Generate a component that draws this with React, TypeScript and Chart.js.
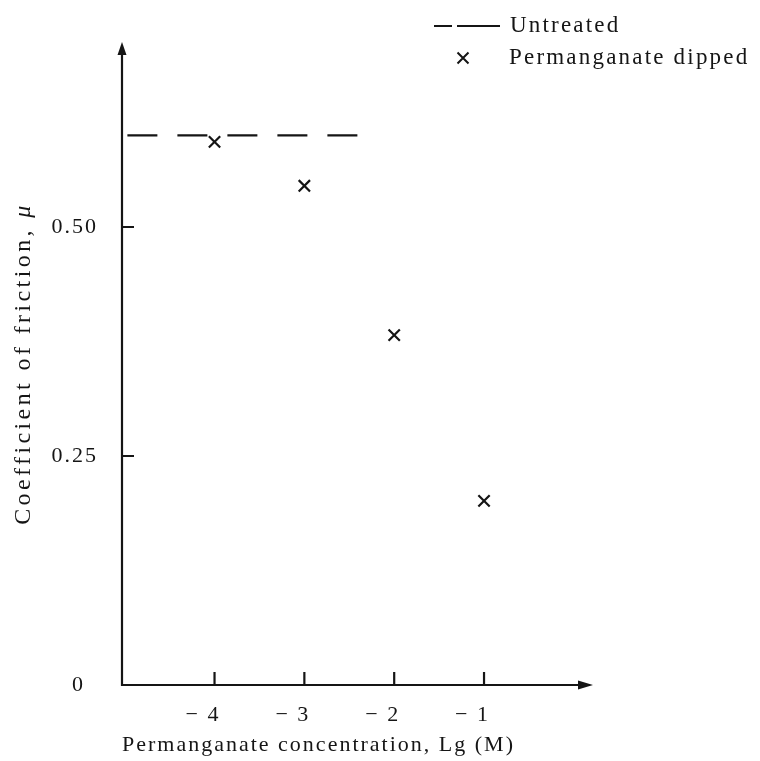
import { useEffect, useRef } from 'react';
import { Chart, registerables } from 'chart.js';

Chart.register(...registerables);

// ---- data ----
const concentrations = [-4, -3, -2, -1];
const frictionDipped = [0.593, 0.545, 0.382, 0.201];
const untreatedX = [-4.97, -2.39];
const untreatedValue = 0.6;
const xTickValues = [-4, -3, -2, -1];
const yTickValues = [0, 0.25, 0.5];
const yTickLabels = ['0\u2007', '0.25', '0.50'];
const legendLabels = ['Untreated', 'Permanganate dipped'];
const xTitle = 'Permanganate concentration, Lg (M)';
const yTitleText = 'Coefficient of friction, ';
const yTitleSymbol = 'μ';
const xRange = [-5.03, 0.213];
const yRange = [0, 0.702];

const FAMILY = '"Liberation Serif", "Times New Roman", serif';
const INK = '#151515';
const SPACING = '2px';

const decorPlugin = {
  id: 'decor',
  beforeDraw(chart: any) {
    chart.ctx.letterSpacing = SPACING;
  },
  afterDraw(chart: any) {
    const ctx = chart.ctx as CanvasRenderingContext2D;
    const c = ctx as any;
    const { left, right, top, bottom } = chart.chartArea;
    const xs = chart.scales.x;
    const ys = chart.scales.y;
    ctx.save();
    ctx.strokeStyle = INK;
    ctx.fillStyle = INK;
    ctx.lineWidth = 2.2;
    ctx.lineCap = 'butt';
    // axes
    ctx.beginPath();
    ctx.moveTo(left, top + 8);
    ctx.lineTo(left, bottom);
    ctx.lineTo(right - 8, bottom);
    ctx.stroke();
    // arrowheads
    ctx.beginPath();
    ctx.moveTo(left, top);
    ctx.lineTo(left - 4.5, top + 13);
    ctx.lineTo(left + 4.5, top + 13);
    ctx.closePath();
    ctx.fill();
    ctx.beginPath();
    ctx.moveTo(right, bottom);
    ctx.lineTo(right - 15, bottom - 4.5);
    ctx.lineTo(right - 15, bottom + 4.5);
    ctx.closePath();
    ctx.fill();
    // tick marks (inward)
    ctx.beginPath();
    xTickValues.forEach((v) => {
      const px = xs.getPixelForValue(v);
      ctx.moveTo(px, bottom);
      ctx.lineTo(px, bottom - 13);
    });
    yTickValues.forEach((v) => {
      if (v === 0) return;
      const py = ys.getPixelForValue(v);
      ctx.moveTo(left, py);
      ctx.lineTo(left + 12, py);
    });
    ctx.stroke();

    // y title (with italic mu)
    const cy = (top + bottom) / 2;
    c.letterSpacing = '3.4px';
    ctx.translate(24, cy);
    ctx.rotate(-Math.PI / 2);
    ctx.textBaseline = 'middle';
    ctx.textAlign = 'left';
    ctx.font = `24px ${FAMILY}`;
    const w1 = ctx.measureText(yTitleText).width;
    ctx.font = `italic 24px ${FAMILY}`;
    const w2 = ctx.measureText(yTitleSymbol).width;
    const start = -(w1 + w2) / 2;
    ctx.font = `24px ${FAMILY}`;
    ctx.fillText(yTitleText, start, 0);
    ctx.font = `italic 24px ${FAMILY}`;
    ctx.fillText(yTitleSymbol, start + w1, 0);
    ctx.setTransform(1, 0, 0, 1, 0, 0);

    // legend
    const dsLine = chart.data.datasets[1];
    const dsPts = chart.data.datasets[0];
    c.letterSpacing = '2.2px';
    ctx.font = `23px ${FAMILY}`;
    ctx.textBaseline = 'middle';
    ctx.textAlign = 'left';
    ctx.lineWidth = 2;
    ctx.strokeStyle = dsLine.borderColor;
    ctx.setLineDash([18, 5, 60, 0]);
    ctx.beginPath();
    ctx.moveTo(434, 26);
    ctx.lineTo(500, 26);
    ctx.stroke();
    ctx.setLineDash([]);
    ctx.fillText(legendLabels[0], 510, 26);
    const r = 5.5;
    ctx.strokeStyle = dsPts.borderColor;
    ctx.beginPath();
    ctx.moveTo(463 - r, 58 - r);
    ctx.lineTo(463 + r, 58 + r);
    ctx.moveTo(463 + r, 58 - r);
    ctx.lineTo(463 - r, 58 + r);
    ctx.stroke();
    ctx.fillText(legendLabels[1], 509, 58);
    ctx.restore();
  },
};

export default function App() {
  const ref = useRef<HTMLCanvasElement>(null);
  useEffect(() => {
    const canvas = ref.current!;
    const font = { family: FAMILY, size: 22 };
    const chart = new Chart(canvas, {
      type: 'scatter',
      data: {
        datasets: [
          {
            label: legendLabels[1],
            data: concentrations.map((x, i) => ({ x, y: frictionDipped[i] })),
            pointStyle: 'crossRot',
            pointRadius: 8,
            pointBorderWidth: 2.2,
            borderColor: INK,
            backgroundColor: INK,
            showLine: false,
          },
          {
            label: legendLabels[0],
            data: untreatedX.map((x) => ({ x, y: untreatedValue })),
            showLine: true,
            borderDash: [30, 20],
            borderColor: INK,
            borderWidth: 2.2,
            pointRadius: 0,
          },
        ],
      } as any,
      options: {
        responsive: false,
        animation: false,
        events: [],
        layout: { padding: { top: 42, right: 167, left: 0, bottom: 0 } },
        plugins: { legend: { display: false }, tooltip: { enabled: false } },
        scales: {
          x: {
            type: 'linear',
            min: xRange[0],
            max: xRange[1],
            afterBuildTicks: (s: any) => {
              s.ticks = xTickValues.map((value) => ({ value }));
            },
            afterFit: (s: any) => {
              s.height = 76;
            },
            grid: { display: false, drawTicks: false },
            border: { display: false },
            ticks: {
              callback: (v: any) => '\u2212 ' + Math.abs(Number(v)),
              color: INK,
              font,
              padding: 17,
              align: 'end',
              labelOffset: 6,
              maxRotation: 0,
              autoSkip: false,
            },
            title: {
              display: true,
              text: xTitle,
              align: 'start',
              color: INK,
              font,
              padding: { top: 0, bottom: 3 },
            },
          },
          y: {
            type: 'linear',
            min: yRange[0],
            max: yRange[1],
            afterBuildTicks: (s: any) => {
              s.ticks = yTickValues.map((value) => ({ value }));
            },
            afterFit: (s: any) => {
              s.width = 122;
            },
            grid: { display: false, drawTicks: false },
            border: { display: false },
            ticks: {
              callback: (_v: any, i: number) => yTickLabels[i],
              color: INK,
              font,
              padding: 24,
              autoSkip: false,
            },
          },
        },
      } as any,
      plugins: [decorPlugin],
    });
    return () => chart.destroy();
  }, []);
  return (
    <div style={{ position: 'fixed', left: 0, top: 0, width: 760, height: 761, background: '#fff' }}>
      <canvas ref={ref} width={760} height={761} style={{ display: 'block' }} />
    </div>
  );
}
